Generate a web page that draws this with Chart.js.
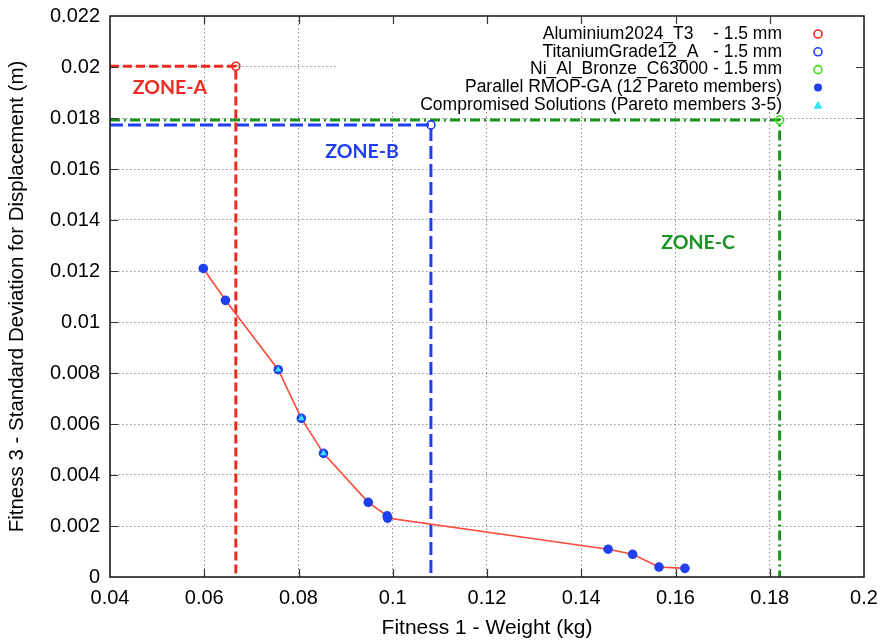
<!DOCTYPE html>
<html>
<head>
<meta charset="utf-8">
<script src="https://cdn.jsdelivr.net/npm/chart.js@4.4.1/dist/chart.umd.min.js"></script>
<style>
  html, body { margin: 0; padding: 0; background: #fff; }
  #wrap { width: 884px; height: 641px; position: relative; }
</style>
</head>
<body>
<div id="wrap"><canvas id="chart"></canvas></div>
<script>
// Pareto front (12 members)
const paretoWeight = [0.0598, 0.0645, 0.0757, 0.0806, 0.0853, 0.0948, 0.0988, 0.0989, 0.1457, 0.1509, 0.1565, 0.1620];
const paretoStdDev = [0.0121, 0.01085, 0.00813, 0.00622, 0.00485, 0.00293, 0.00240, 0.00231, 0.00109, 0.00089, 0.00039, 0.00034];

// compromised solutions = Pareto members 3-5
const compromisedMembers = [3, 4, 5];

// single-material reference designs (1.5 mm)
const materials = ['Aluminium2024_T3    - 1.5 mm', 'TitaniumGrade12_A   - 1.5 mm', 'Ni_Al_Bronze_C63000 - 1.5 mm'];
const materialWeight = [0.0667, 0.1081, 0.1821];
const materialStdDev = [0.02003, 0.01773, 0.01792];

const zoneNames = ['ZONE-A', 'ZONE-B', 'ZONE-C'];
const zoneLabelX = [0.0527, 0.0935, 0.1648];
const zoneLabelY = [0.01917, 0.01669, 0.01310];

const xTicks = [0.04, 0.06, 0.08, 0.1, 0.12, 0.14, 0.16, 0.18, 0.2];
const yTicks = [0, 0.002, 0.004, 0.006, 0.008, 0.01, 0.012, 0.014, 0.016, 0.018, 0.02, 0.022];

const RED = '#f02a22';
const BLUE = '#1f3ff0';
const DKGREEN = '#1a9420';
const LTGREEN = '#3ee01a';
const CYAN = '#33e6f5';
const FONT = '"Liberation Sans", Arial, sans-serif';

const paretoPoints = paretoWeight.map((w, i) => ({ x: w, y: paretoStdDev[i] }));
const compromisedPoints = compromisedMembers.map(m => paretoPoints[m - 1]);

// L-shaped guide from the y axis to each material point and down to zero
function zoneLine(i) {
    return [
        { x: xTicks[0], y: materialStdDev[i] },
        { x: materialWeight[i], y: materialStdDev[i] },
        { x: materialWeight[i], y: 0 }
    ];
}

const zoneColors = [RED, BLUE, DKGREEN];
const zoneDash = [[9, 4], [13, 5], [10, 4, 2, 4]];
const markerColors = [RED, BLUE, LTGREEN];

const datasets = [];
materials.forEach((m, i) => {
    datasets.push({
        label: m + ' zone',
        data: zoneLine(i),
        showLine: true,
        borderColor: zoneColors[i],
        borderWidth: 3,
        borderDash: zoneDash[i],
        pointRadius: 0,
        order: 5
    });
    datasets.push({
        label: m,
        data: [{ x: materialWeight[i], y: materialStdDev[i] }],
        pointRadius: 4,
        pointBorderWidth: 1.6,
        pointBorderColor: markerColors[i],
        pointBackgroundColor: 'rgba(255,255,255,0)',
        order: 0
    });
});
datasets.push({
    label: 'Parallel RMOP-GA (12 Pareto members)',
    data: paretoPoints,
    showLine: true,
    borderColor: '#ff4a3a',
    borderWidth: 1.6,
    pointRadius: 4.8,
    pointBorderWidth: 0,
    pointBackgroundColor: BLUE,
    order: 2
});
datasets.push({
    label: 'Compromised Solutions (Pareto members 3-5)',
    data: compromisedPoints,
    pointStyle: 'triangle',
    pointRadius: 3.8,
    pointBorderWidth: 0,
    pointBackgroundColor: CYAN,
    order: 1
});

const legendRows = [
    { text: materials[0], type: 'circle', color: RED },
    { text: materials[1], type: 'circle', color: BLUE },
    { text: materials[2], type: 'circle', color: LTGREEN },
    { text: 'Parallel RMOP-GA (12 Pareto members)', type: 'dot', color: BLUE },
    { text: 'Compromised Solutions (Pareto members 3-5)', type: 'triangle', color: CYAN }
];

const framePlugin = {
    id: 'frame',
    beforeDatasetsDraw(chart) {
        // opaque key box hides the grid behind it
        const { ctx, scales: { x, y } } = chart;
        const left = x.getPixelForValue(0.0882);
        const bottom = y.getPixelForValue(0.01825);
        ctx.save();
        ctx.fillStyle = '#fff';
        ctx.fillRect(left, chart.chartArea.top, chart.chartArea.right - left, bottom - chart.chartArea.top);
        ctx.restore();
    },
    afterDraw(chart) {
        const { ctx, chartArea: a, scales: { x, y } } = chart;
        ctx.save();
        // inner tick marks on all four sides
        ctx.strokeStyle = '#333';
        ctx.lineWidth = 1.2;
        ctx.beginPath();
        yTicks.slice(1, -1).forEach(v => {
            const py = Math.round(y.getPixelForValue(v)) + 0.5;
            ctx.moveTo(a.left, py); ctx.lineTo(a.left + 8, py);
            ctx.moveTo(a.right, py); ctx.lineTo(a.right - 8, py);
        });
        xTicks.slice(1, -1).forEach(v => {
            const px = Math.round(x.getPixelForValue(v)) + 0.5;
            ctx.moveTo(px, a.bottom); ctx.lineTo(px, a.bottom - 8);
            ctx.moveTo(px, a.top); ctx.lineTo(px, a.top + 8);
        });
        ctx.stroke();
        // border box
        ctx.strokeStyle = '#222';
        ctx.lineWidth = 1.6;
        ctx.strokeRect(a.left, a.top, a.right - a.left, a.bottom - a.top);

        // key
        ctx.font = '17.5px ' + FONT;
        ctx.textAlign = 'right';
        ctx.textBaseline = 'middle';
        legendRows.forEach((r, i) => {
            const ty = a.top + 18 + i * 17.8;
            ctx.fillStyle = '#000';
            ctx.fillText(r.text, a.right - 82, ty);
            const mx = a.right - 46;
            ctx.beginPath();
            if (r.type === 'circle') {
                ctx.strokeStyle = r.color;
                ctx.lineWidth = 1.6;
                ctx.arc(mx, ty, 4, 0, Math.PI * 2);
                ctx.stroke();
            } else if (r.type === 'dot') {
                ctx.fillStyle = r.color;
                ctx.arc(mx, ty, 4, 0, Math.PI * 2);
                ctx.fill();
            } else {
                ctx.fillStyle = r.color;
                ctx.moveTo(mx, ty - 4.5);
                ctx.lineTo(mx + 4.5, ty + 3.5);
                ctx.lineTo(mx - 4.5, ty + 3.5);
                ctx.closePath();
                ctx.fill();
            }
        });

        // zone labels
        ctx.font = 'bold 19.5px Lato, "Open Sans", sans-serif';
        ctx.textAlign = 'center';
        zoneNames.forEach((z, i) => {
            ctx.fillStyle = zoneColors[i];
            ctx.fillText(z, x.getPixelForValue(zoneLabelX[i]), y.getPixelForValue(zoneLabelY[i]));
        });
        ctx.restore();
    }
};

const gridStyle = {
    color: 'rgba(110,110,110,0.75)',
    lineWidth: 1,
    drawTicks: false
};

new Chart(document.getElementById('chart'), {
    type: 'scatter',
    data: { datasets },
    options: {
        responsive: true,
        maintainAspectRatio: false,
        animation: false,
        layout: { padding: { left: 4, right: 20, top: 16, bottom: 0 } },
        plugins: {
            legend: { display: false },
            tooltip: { enabled: false }
        },
        scales: {
            x: {
                type: 'linear',
                min: 0.04,
                max: 0.2,
                afterBuildTicks: s => { s.ticks = xTicks.map(v => ({ value: v })); },
                afterFit: s => { s.height = 64; s.paddingLeft = 0; s.paddingRight = 0; },
                grid: gridStyle,
                border: { display: false, dash: [1.5, 2.5] },
                ticks: {
                    padding: 9,
                    color: '#000',
                    font: { family: FONT, size: 20 },
                    maxRotation: 0,
                    callback: v => String(v)
                },
                title: {
                    display: true,
                    text: 'Fitness 1 - Weight (kg)',
                    color: '#000',
                    font: { family: FONT, size: 21 },
                    padding: { top: 0, bottom: 0 }
                }
            },
            y: {
                type: 'linear',
                min: 0,
                max: 0.022,
                afterBuildTicks: s => { s.ticks = yTicks.map(v => ({ value: v })); },
                afterFit: s => { s.width = 106; s.paddingTop = 0; s.paddingBottom = 0; },
                grid: gridStyle,
                border: { display: false, dash: [1.5, 2.5] },
                ticks: {
                    padding: 10,
                    color: '#000',
                    font: { family: FONT, size: 20 },
                    callback: v => String(v)
                },
                title: {
                    display: true,
                    text: 'Fitness 3 - Standard Deviation for Displacement (m)',
                    color: '#000',
                    font: { family: FONT, size: 20.5 },
                    padding: { top: 1, bottom: 0 }
                }
            }
        }
    },
    plugins: [framePlugin]
});
</script>
</body>
</html>
